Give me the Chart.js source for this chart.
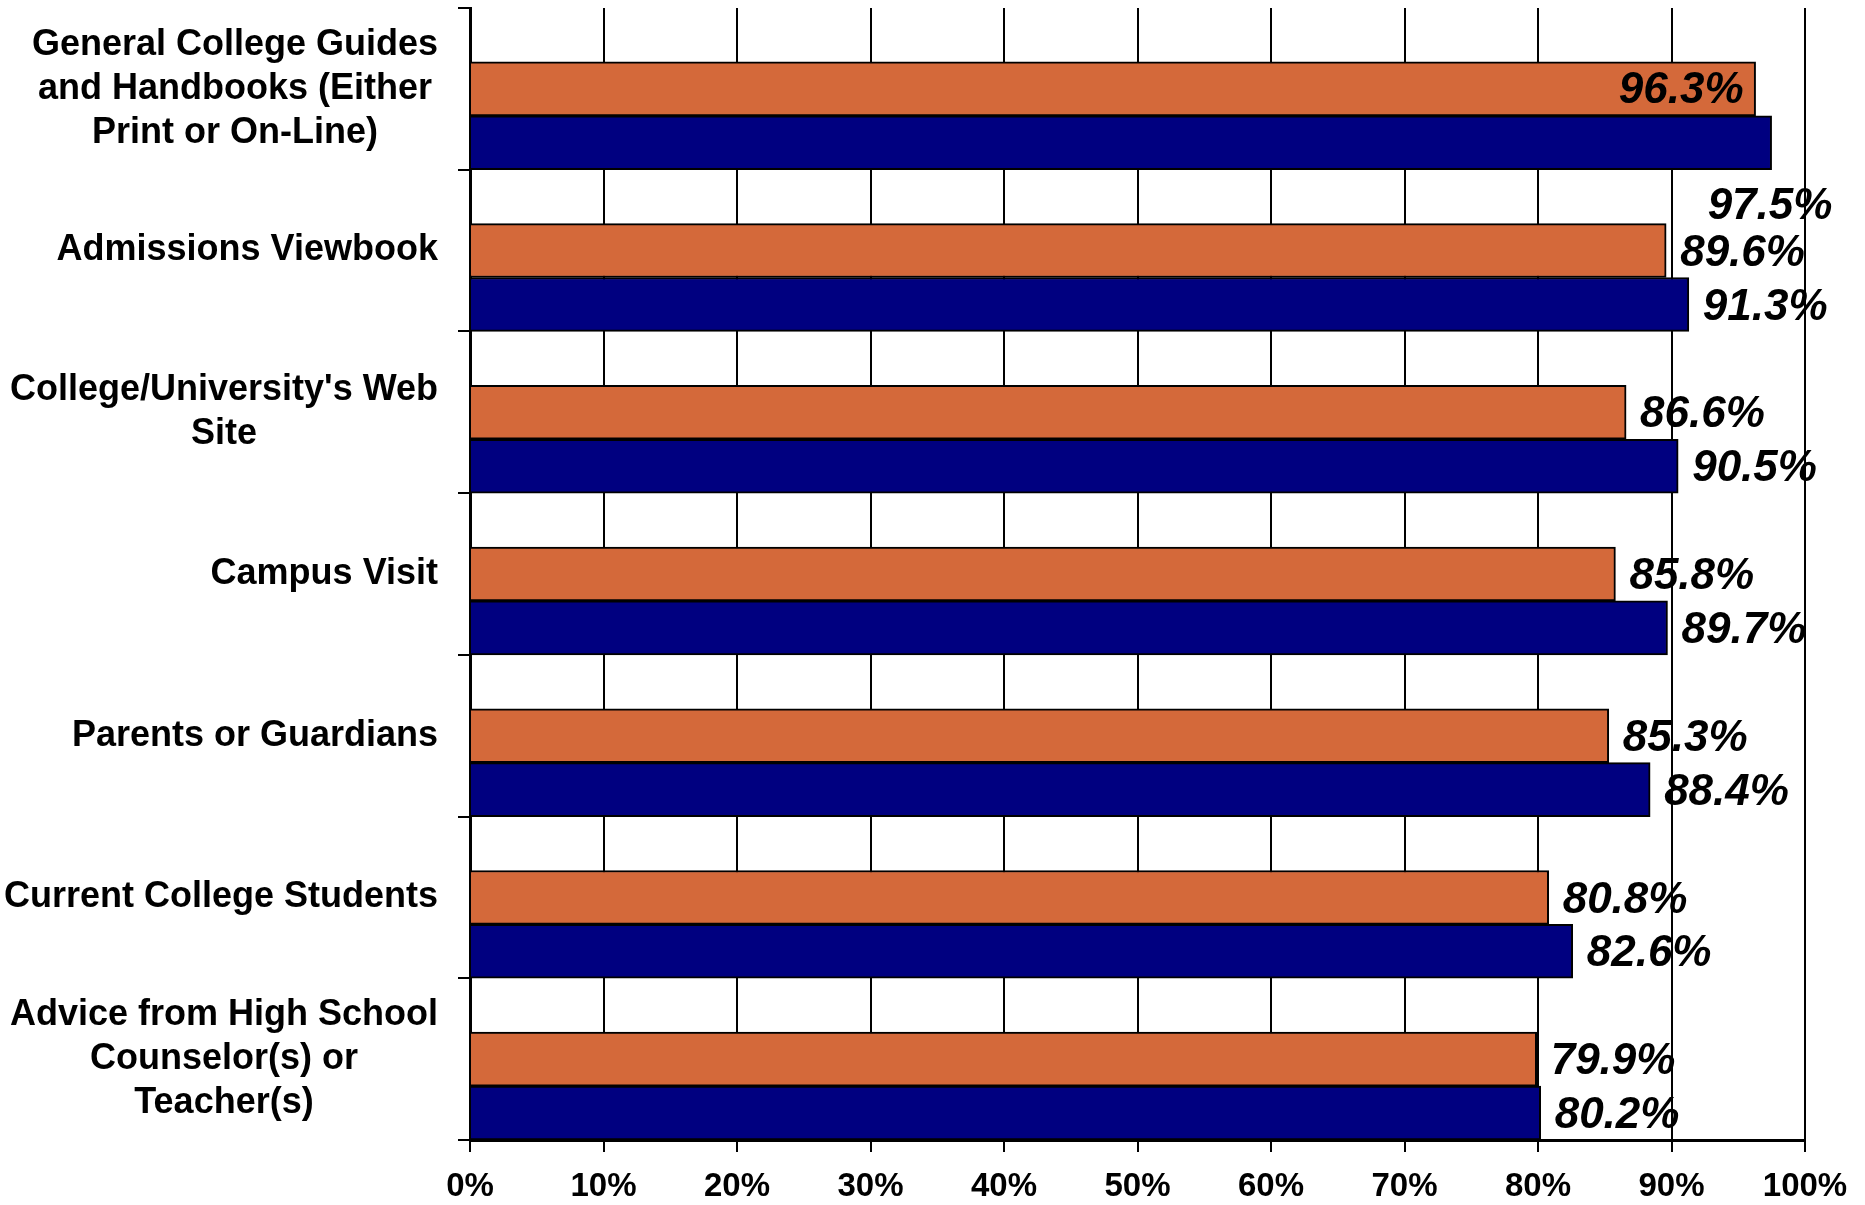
<!DOCTYPE html>
<html>
<head>
<meta charset="utf-8">
<script src="https://cdn.jsdelivr.net/npm/chart.js@4.4.0/dist/chart.umd.min.js"></script>
<style>
html,body{margin:0;padding:0;background:#fff;}
#wrap{width:1865px;height:1205px;}
</style>
</head>
<body>
<div id="wrap"><canvas id="chart" width="1865" height="1205"></canvas></div>
<script>
// categories (multi-line labels), top to bottom
const categories=[
  ['General College Guides','and Handbooks (Either','Print or On-Line)'],
  ['Admissions Viewbook'],
  ["College/University's Web",'Site'],
  ['Campus Visit'],
  ['Parents or Guardians'],
  ['Current College Students'],
  ['Advice from High School','Counselor(s) or','Teacher(s)']
];
const seriesOrange=[96.3,89.6,86.6,85.8,85.3,80.8,79.9];
const seriesBlue=[97.5,91.3,90.5,89.7,88.4,82.6,80.2];
const spacer=[null,null,null,null,null,null,null];
const tickValues=[0,10,20,30,40,50,60,70,80,90,100];

const FONT='"Liberation Sans", Arial, Helvetica, sans-serif';

// draws category labels (right-aligned block, centred lines) and value labels
const labelPlugin={
  id:'labels',
  afterDraw(chart){
    const ctx=chart.ctx,ys=chart.scales.y;
    ctx.save();
    ctx.fillStyle='#000';
    ctx.textBaseline='middle';
    ctx.font='bold 36px '+FONT;
    ctx.textAlign='center';
    const right=ys.right-32;
    categories.forEach((lines,i)=>{
      const cy=ys.getPixelForValue(i);
      const w=Math.max(...lines.map(l=>ctx.measureText(l).width));
      lines.forEach((l,k)=>{
        ctx.fillText(l,right-w/2,cy+(k-(lines.length-1)/2)*44);
      });
    });
    ctx.font='italic bold 44px '+FONT;
    [1,2].forEach(d=>{
      const meta=chart.getDatasetMeta(d);
      const vals=chart.data.datasets[d].data;
      meta.data.forEach((bar,i)=>{
        const txt=vals[i].toFixed(1)+'%';
        const tw=ctx.measureText(txt).width;
        const fits=bar.x+14+tw<chart.width-10;
        if(fits){
          ctx.textAlign='left';
          ctx.fillText(txt,bar.x+14,bar.y+3);
        }else if(d===1){
          ctx.textAlign='right';
          ctx.fillText(txt,bar.x-12,bar.y+2);
        }else{
          ctx.textAlign='left';
          ctx.fillText(txt,bar.x-64,bar.y+bar.height/2+37);
        }
      });
    });
    ctx.restore();
  }
};

new Chart(document.getElementById('chart'),{
  type:'bar',
  data:{
    labels:categories.map(c=>c.join(' ')),
    datasets:[
      {label:'',data:spacer},
      {label:'A',data:seriesOrange,backgroundColor:'#D4693A',borderColor:'#000',borderWidth:2},
      {label:'B',data:seriesBlue,backgroundColor:'#000080',borderColor:'#000',borderWidth:2}
    ]
  },
  options:{
    indexAxis:'y',
    responsive:false,
    animation:false,
    devicePixelRatio:1,
    categoryPercentage:1,
    barPercentage:1,
    layout:{padding:{top:8,right:60,left:0,bottom:0}},
    plugins:{legend:{display:false},tooltip:{enabled:false}},
    scales:{
      x:{
        min:0,max:100,
        afterBuildTicks:s=>{s.ticks=tickValues.map(v=>({value:v}));},
        ticks:{callback:v=>v+'%',color:'#000',font:{family:FONT,size:33,weight:'bold'},padding:15,maxRotation:0,autoSkip:false},
        grid:{color:'#000',lineWidth:2,tickLength:12,drawTicks:true},
        border:{display:true,color:'#000',width:3},
        afterFit:s=>{s.height=65;}
      },
      y:{
        ticks:{display:false},
        grid:{drawOnChartArea:false,drawTicks:true,tickLength:12,color:'#000',lineWidth:2},
        border:{display:true,color:'#000',width:3},
        afterFit:s=>{s.width=470;}
      }
    }
  },
  plugins:[labelPlugin]
});
</script>
</body>
</html>
